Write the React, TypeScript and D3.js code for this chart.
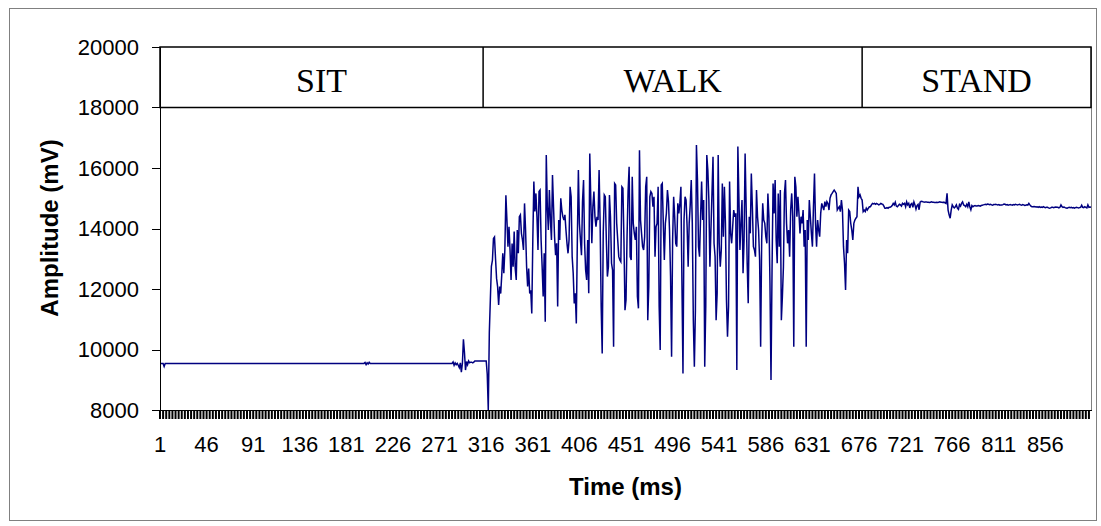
import React, { useEffect, useRef } from 'react';
import * as d3 from 'd3';

// amplitude samples (mV), one per ms
const sitValues = [
  9540, 9540, 9540, 9540, 9440, 9540, 9540, 9540, 9540, 9540,
  9540, 9540, 9540, 9540, 9540, 9540, 9540, 9540, 9540, 9540,
  9540, 9540, 9540, 9540, 9540, 9540, 9540, 9540, 9540, 9540,
  9540, 9540, 9540, 9540, 9540, 9540, 9540, 9540, 9540, 9540,
  9540, 9540, 9540, 9540, 9540, 9540, 9540, 9540, 9540, 9540,
  9540, 9540, 9540, 9540, 9540, 9540, 9540, 9540, 9540, 9540,
  9540, 9540, 9540, 9540, 9540, 9540, 9540, 9540, 9540, 9540,
  9540, 9540, 9540, 9540, 9540, 9540, 9540, 9540, 9540, 9540,
  9540, 9540, 9540, 9540, 9540, 9540, 9540, 9540, 9540, 9540,
  9540, 9540, 9540, 9540, 9540, 9540, 9540, 9540, 9540, 9540,
  9540, 9540, 9540, 9540, 9540, 9540, 9540, 9540, 9540, 9540,
  9540, 9540, 9540, 9540, 9540, 9540, 9540, 9540, 9540, 9540,
  9540, 9540, 9540, 9540, 9540, 9540, 9540, 9540, 9540, 9540,
  9540, 9540, 9540, 9540, 9540, 9540, 9540, 9540, 9540, 9540,
  9540, 9540, 9540, 9540, 9540, 9540, 9540, 9540, 9540, 9540,
  9540, 9540, 9540, 9540, 9540, 9540, 9540, 9540, 9540, 9540,
  9540, 9540, 9540, 9540, 9540, 9540, 9540, 9540, 9540, 9540,
  9540, 9540, 9540, 9540, 9540, 9540, 9540, 9540, 9540, 9540,
  9540, 9540, 9540, 9540, 9540, 9540, 9540, 9540, 9540, 9540,
  9540, 9540, 9540, 9540, 9540, 9540, 9540, 9540, 9570, 9500,
  9560, 9520, 9580, 9540, 9540, 9540, 9540, 9540, 9540, 9540,
  9540, 9540, 9540, 9540, 9540, 9540, 9540, 9540, 9540, 9540,
  9540, 9540, 9540, 9540, 9540, 9540, 9540, 9540, 9540, 9540,
  9540, 9540, 9540, 9540, 9540, 9540, 9540, 9540, 9540, 9540,
  9540, 9540, 9540, 9540, 9540, 9540, 9540, 9540, 9540, 9540,
  9540, 9540, 9540, 9540, 9540, 9540, 9540, 9540, 9540, 9540,
  9540, 9540, 9540, 9540, 9540, 9540, 9540, 9540, 9540, 9540,
  9540, 9540, 9540, 9540, 9540, 9540, 9540, 9540, 9540, 9540,
  9540, 9540, 9540, 9590, 9480, 9560, 9500, 9540, 9480, 9400,
  9560, 9250, 9540, 10340, 9900, 9320, 9600, 9500, 9620, 9560,
  9580, 9580, 9560, 9580, 9620, 9620, 9620, 9620, 9620, 9620,
  9620, 9620, 9620, 9620, 9620, 9620,
];

const walkValues = [
  9180, 8000,
  10550, 11650, 12750, 12950, 13670, 13720, 13000, 12350, 12080, 11470,
  12080, 11850, 12460, 13180, 12520, 13290, 15100, 14280, 13400,
  14060, 13290, 12300, 13500, 12740, 13900, 12680, 12300, 13950,
  13180, 14390, 14450, 13840, 13620, 13290, 14830, 13950, 12740,
  12080, 12680, 11850, 11960, 11190, 13620, 15550, 14560, 15160, 14390,
  13290, 15220, 15270, 13620, 12740, 11750, 13180, 10920, 16430,
  14720, 13950, 15270, 14280, 13620, 15770, 14720, 13730, 13120, 13510,
  11420, 14280, 13620, 15000, 14610, 14390, 14280, 14450, 13950, 13510,
  13180, 13620, 15380, 15050, 13070, 12520, 11520, 11860, 10860, 13620,
  15930, 14170,
  13620, 13120,
  14890, 15600, 13510, 12630, 12300, 13620, 11860, 16480, 14940, 13510,
  14720, 15220, 14390, 14060, 14390, 14280, 15930, 14170, 11420,
  9870, 13840, 15110, 15050, 13620, 12410, 12740, 15110, 14390, 12850,
  12630, 10090, 15490, 15440, 14170, 13620, 13070, 12960, 12900, 15380,
  15330, 13620, 11300, 11640, 13730, 15220, 16040, 13070, 12960, 15710,
  14170, 13840, 13620, 14060, 11750, 11360, 16590, 14280, 13840, 13400,
  13290, 13730, 15380, 15710, 10970, 12080, 15050, 15220, 15160, 14720,
  15050, 13070, 14060, 14170, 15380, 11420, 9980, 15440, 15490,
  14170, 12960, 14170, 14500, 15270, 14890, 13950, 12410, 9760, 13620,
  15050, 14390, 13510, 13400, 14830, 14500,
  14830, 15380, 12190, 9210, 14280, 15050, 14940, 14060, 12740, 14170,
  14780, 15600, 14170, 10970, 9430, 11300, 16760, 15600, 13400, 13070,
  14390, 15550, 14280, 14940, 9430, 11420, 16430, 15930, 14940,
  12740, 13950, 15160, 16370, 13510, 13070, 10970, 11860, 16430, 13510,
  12740, 13290, 15490, 13730, 15380, 14170, 11640, 10420, 11420,
  15550, 13840, 13510, 14060, 14610, 14390, 14500, 9320, 16710,
  15050, 13290, 14170, 14940, 12520, 13620, 16480, 14720, 12850, 11530,
  14390, 13840, 15820, 14720, 13400, 13290, 13070, 15270, 14390, 13950,
  12960, 10090, 13620, 14830, 14280, 14170, 13730, 13510, 15160,
  14390, 12190, 8990, 12630, 15490, 14500,
  15600, 13620, 12850, 15160, 13400, 15270, 10970, 11750, 12740, 15160,
  15600, 14170, 13510, 13950, 13070, 14610, 15160, 14390, 10090, 15710,
  15380, 14390, 15050, 14500, 13840, 14390, 14170, 14610, 13400, 13950,
  10090, 14280, 13620, 14940, 14390, 13840, 13400, 14720, 15820, 14170,
  13400, 14280, 13950, 13730, 14500, 14830, 14720, 14610, 14890, 14720,
  14890, 14830, 14610, 15000, 15110, 15160, 15220, 15270, 15220, 15160,
  14610, 14670, 14720, 14560, 14940, 14610, 13400, 12850, 11970, 13620,
  13180, 14610, 14560, 14170, 13950, 13620, 14170, 14280, 14340, 14390,
  15380, 15050, 15110, 15000, 14940,
];

const standValues = [
  14560, 14610, 14560, 14670, 14610, 14670, 14720, 14720, 14780, 14830,
  14810, 14830, 14800, 14830, 14810, 14780, 14800, 14830, 14810, 14800,
  14740, 14670, 14670, 14690, 14670, 14700, 14700, 14720, 14760, 14830,
  14780, 14870, 14740, 14720, 14760, 14800, 14780, 14740, 14830, 14800,
  14830, 14720, 14880, 14780, 14830, 14680, 14800, 14830, 14700, 14880,
  14780, 14640, 14760, 14800, 14620, 14870, 14900, 14890, 14880, 14870,
  14880, 14880, 14870, 14870, 14860, 14870, 14880, 14870, 14870, 14860,
  14860, 14870, 14860, 14870, 14880, 14870, 14870, 14860, 14870, 14850,
  14830, 15160, 14610, 14450, 14340, 14610, 14780, 14720, 14680, 14720,
  14780, 14670, 14630, 14790, 14740, 14830, 14880, 14780, 14760, 14720,
  14800, 14720, 14880, 14720, 14620, 14760, 14720, 14750, 14760, 14740,
  14740, 14760, 14750, 14740, 14760, 14770, 14780, 14790, 14800, 14790,
  14810, 14800, 14790, 14800, 14780, 14770, 14790, 14790, 14800, 14790,
  14780, 14790, 14770, 14780, 14780, 14790, 14810, 14800, 14780, 14790,
  14770, 14780, 14790, 14780, 14770, 14790, 14780, 14800, 14790, 14780,
  14790, 14800, 14780, 14770, 14790, 14780, 14760, 14770, 14780, 14770,
  14830, 14780, 14740, 14720, 14720, 14730, 14720, 14710, 14720, 14700,
  14720, 14700, 14710, 14700, 14720, 14700, 14690, 14700, 14700, 14680,
  14670, 14680, 14700, 14700, 14690, 14700, 14710, 14700, 14700, 14680,
  14700, 14780, 14720, 14700, 14710, 14690, 14680, 14670, 14690, 14700,
  14690, 14700, 14680, 14690, 14670, 14690, 14700, 14690, 14680, 14690,
  14700, 14770, 14700, 14690, 14720, 14700, 14680, 14780, 14700, 14710,
  14700,
];

const yTicks = [8000, 10000, 12000, 14000, 16000, 18000, 20000];
const xTickLabels = [1, 46, 91, 136, 181, 226, 271, 316, 361, 406, 451, 496, 541, 586, 631, 676, 721, 766, 811, 856];
const phaseLabels = ['SIT', 'WALK', 'STAND'];
const phaseBounds = [1, 313, 679, 900];

const sans = '"Liberation Sans", Arial, sans-serif';
const serif = '"Liberation Serif", "Times New Roman", serif';

const App = () => {
  const svgRef = useRef<SVGSVGElement>(null);

  useEffect(() => {
    const values = [...sitValues, ...walkValues, ...standValues];
    const svg = d3.select(svgRef.current);
    svg.selectAll('*').remove();

    const left = 160;
    const right = 1091;
    const top = 47;
    const bottom = 410;

    const x = d3.scaleLinear().domain([1, values.length]).range([left, right]);
    const y = d3.scaleLinear().domain([8000, 20000]).range([bottom, top]);

    // chart area frame
    svg.append('rect')
      .attr('x', 9.5).attr('y', 8.5)
      .attr('width', 1087).attr('height', 512)
      .attr('fill', '#fff')
      .attr('stroke', '#808080');

    // plot area border (right side grey)
    svg.append('line')
      .attr('x1', right + 0.5).attr('x2', right + 0.5)
      .attr('y1', top).attr('y2', bottom)
      .attr('stroke', '#808080');

    const line = d3.line<number>()
      .x((d, i) => x(i + 1))
      .y(d => y(d));

    svg.append('path')
      .datum(values)
      .attr('d', line)
      .attr('fill', 'none')
      .attr('stroke', '#000080')
      .attr('stroke-width', 1.5);

    // header boxes with activity names
    const header = svg.append('g');
    header.append('rect')
      .attr('x', x(phaseBounds[0])).attr('y', y(20000))
      .attr('width', x(phaseBounds[3]) - x(phaseBounds[0]))
      .attr('height', y(18000) - y(20000))
      .attr('fill', '#fff')
      .attr('stroke', '#000')
      .attr('stroke-width', 1.5);
    phaseBounds.slice(1, 3).forEach(b => {
      header.append('line')
        .attr('x1', x(b)).attr('x2', x(b))
        .attr('y1', y(20000)).attr('y2', y(18000))
        .attr('stroke', '#000')
        .attr('stroke-width', 1.5);
    });
    phaseLabels.forEach((label, i) => {
      header.append('text')
        .attr('x', (x(phaseBounds[i]) + x(phaseBounds[i + 1])) / 2)
        .attr('y', 92)
        .attr('text-anchor', 'middle')
        .attr('font-family', serif)
        .attr('font-size', 34)
        .text(label);
    });

    // y axis
    svg.append('line')
      .attr('x1', left + 0.5).attr('x2', left + 0.5)
      .attr('y1', top).attr('y2', bottom)
      .attr('stroke', '#000');
    yTicks.forEach(t => {
      svg.append('line')
        .attr('x1', left - 8).attr('x2', left)
        .attr('y1', Math.round(y(t)) + 0.5).attr('y2', Math.round(y(t)) + 0.5)
        .attr('stroke', '#000');
      svg.append('text')
        .attr('x', 139)
        .attr('y', y(t))
        .attr('dy', '0.36em')
        .attr('text-anchor', 'end')
        .attr('font-family', sans)
        .attr('font-size', 22)
        .text(t);
    });

    // x axis
    svg.append('line')
      .attr('x1', left).attr('x2', right + 1)
      .attr('y1', bottom + 0.5).attr('y2', bottom + 0.5)
      .attr('stroke', '#000');
    svg.append('g')
      .selectAll('line')
      .data(d3.range(1, values.length + 1, 3))
      .enter()
      .append('line')
      .attr('x1', d => x(d)).attr('x2', d => x(d))
      .attr('y1', bottom).attr('y2', bottom + 9)
      .attr('stroke', '#000')
      .attr('stroke-width', 2);
    svg.append('g')
      .selectAll('text')
      .data(xTickLabels)
      .enter()
      .append('text')
      .attr('x', d => x(d))
      .attr('y', 452)
      .attr('text-anchor', 'middle')
      .attr('font-family', sans)
      .attr('font-size', 22)
      .text(d => d);

    // axis titles
    svg.append('text')
      .attr('x', (left + right) / 2)
      .attr('y', 495)
      .attr('text-anchor', 'middle')
      .attr('font-family', sans)
      .attr('font-size', 24)
      .attr('font-weight', 'bold')
      .text('Time (ms)');

    svg.append('text')
      .attr('transform', `translate(58, 228) rotate(-90)`)
      .attr('text-anchor', 'middle')
      .attr('font-family', sans)
      .attr('font-size', 24)
      .attr('font-weight', 'bold')
      .text('Amplitude (mV)');
  }, []);

  return (
    <svg
      ref={svgRef}
      width={1101}
      height={526}
      style={{ position: 'absolute', left: 0, top: 0, background: '#fff' }}
    />
  );
};

export default App;
